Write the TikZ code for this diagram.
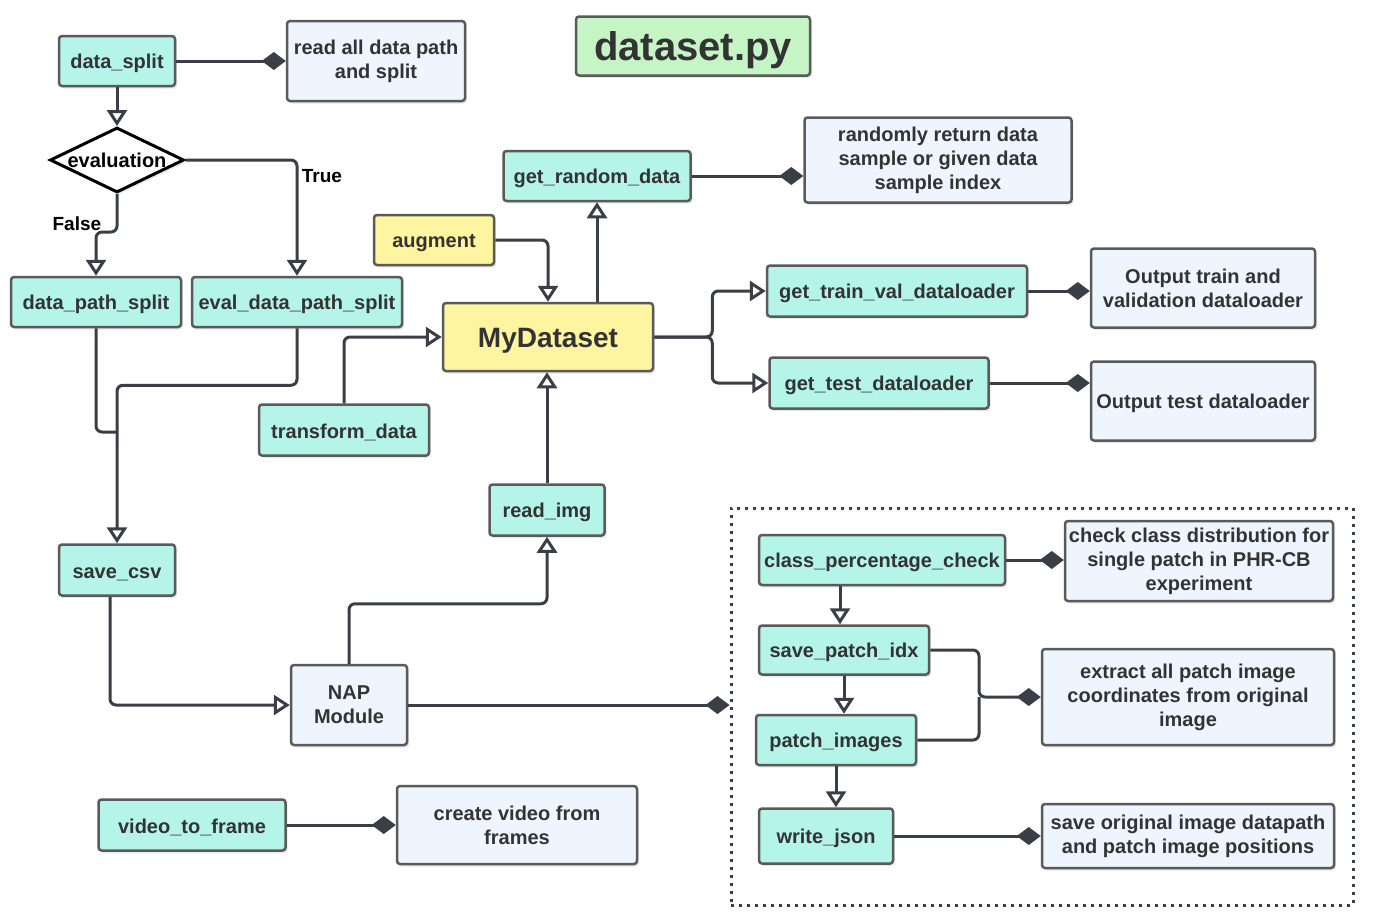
\documentclass[tikz,border=0pt]{standalone}
\usepackage{fontspec}
\setmainfont{Liberation Sans}
\usepackage{xcolor}
\usepackage{tikz}
\usetikzlibrary{shapes,positioning,arrows.meta,shadows}
\definecolor{fnfill}{RGB}{180,244,233}
\definecolor{notefill}{RGB}{238,245,255}
\definecolor{clsfill}{RGB}{255,245,160}
\definecolor{ttlfill}{RGB}{197,245,197}
\definecolor{edge}{RGB}{58,63,71}
\definecolor{bord}{RGB}{90,90,90}
\definecolor{txt}{RGB}{51,51,51}
\tikzset{box/.style={rectangle,draw=bord,line width=2.5pt,rounded corners=3pt,inner sep=2pt,text=txt,align=center,font=\fontsize{20}{24}\selectfont\bfseries,execute at begin node={\rule{0pt}{0.95em}},drop shadow={shadow xshift=2pt,shadow yshift=-2.5pt,opacity=0.18}}}
\tikzset{fn/.style={box,fill=fnfill}}
\tikzset{note/.style={box,fill=notefill}}
\tikzset{cls/.style={box,fill=clsfill}}
\tikzset{ttl/.style={box,fill=ttlfill,font=\fontsize{40}{44}\selectfont\bfseries}}
\tikzset{cond/.style={diamond,draw=black,line width=3pt,fill=white,inner sep=0pt,aspect=2,font=\fontsize{20}{24}\selectfont\bfseries,drop shadow={shadow xshift=2pt,shadow yshift=-2.5pt,opacity=0.18}}}
\tikzset{grpbox/.style={draw=edge,line width=3pt,dash pattern=on 3pt off 5pt}}
\tikzset{lbl/.style={font=\fontsize{19}{22}\selectfont\bfseries,text=black}}
\tikzset{ln/.style={draw=edge,line width=3pt,rounded corners=6pt}}
\tikzset{tri/.style={ln,-{Triangle[fill=white,length=16pt,width=20pt]}}}
\tikzset{dia/.style={ln,-{Diamond[fill=edge,length=24pt,width=18pt]}}}

\begin{document}
\begin{tikzpicture}[x=1pt,y=-1pt]
    \useasboundingbox (0,0) rectangle (1382,921);

    \node[grpbox,minimum width=622pt,minimum height=397pt] (grp) at (1042,706.5) {};

    \node[fn,minimum width=116pt,minimum height=50pt] (dsplit) at (117,61) {data\_split};
    \node[note,minimum width=178pt,minimum height=80pt] (rdp) at (376,61) {read all data path\\and split};
    \node[ttl,minimum width=234pt,minimum height=59pt] (ttl) at (693,46) {dataset.py};
    \node[cond,minimum width=134pt,minimum height=65pt] (eval) at (117,160) {evaluation};
    \node[fn,minimum width=170pt,minimum height=50pt] (dps) at (96,302) {data\_path\_split};
    \node[fn,minimum width=210pt,minimum height=50pt] (edps) at (297,302) {eval\_data\_path\_split};
    \node[cls,minimum width=120pt,minimum height=50pt] (aug) at (434,240) {augment};
    \node[fn,minimum width=187pt,minimum height=50pt] (grd) at (597,176) {get\_random\_data};
    \node[note,minimum width=267pt,minimum height=85pt] (rnd) at (938,160) {randomly return data\\sample or given data\\sample index};
    \node[cls,minimum width=210pt,minimum height=68pt,font=\fontsize{28}{32}\selectfont\bfseries] (mds) at (548,337) {MyDataset};
    \node[fn,minimum width=260pt,minimum height=51pt] (gtv) at (897,291) {get\_train\_val\_dataloader};
    \node[note,minimum width=224pt,minimum height=79pt] (otv) at (1203,288) {Output train and\\validation dataloader};
    \node[fn,minimum width=219pt,minimum height=51pt] (gtest) at (879,383) {get\_test\_dataloader};
    \node[note,minimum width=224pt,minimum height=79pt] (otest) at (1203,401) {Output test dataloader};
    \node[fn,minimum width=170pt,minimum height=51pt] (tdata) at (344,430) {transform\_data};
    \node[fn,minimum width=115pt,minimum height=51pt] (rimg) at (547,510) {read\_img};
    \node[fn,minimum width=116pt,minimum height=51pt] (csv) at (117,570) {save\_csv};
    \node[note,minimum width=116pt,minimum height=80pt] (nap) at (349,705) {NAP\\Module};
    \node[fn,minimum width=187pt,minimum height=51pt] (vtf) at (192,825) {video\_to\_frame};
    \node[note,minimum width=240pt,minimum height=78pt] (cvf) at (517,825) {create video from\\frames};
    \node[fn,minimum width=246pt,minimum height=50pt] (cpc) at (882,560) {class\_percentage\_check};
    \node[note,minimum width=268pt,minimum height=80pt] (ccd) at (1199,561) {check class distribution for\\single patch in PHR-CB\\experiment};
    \node[fn,minimum width=170pt,minimum height=49pt] (spi) at (844,650) {save\_patch\_idx};
    \node[fn,minimum width=160pt,minimum height=50pt] (pim) at (836,740) {patch\_images};
    \node[note,minimum width=292pt,minimum height=96pt] (ext) at (1188,697) {extract all patch image\\coordinates from original\\image};
    \node[fn,minimum width=134pt,minimum height=55pt] (wj) at (826,836) {write\_json};
    \node[note,minimum width=292pt,minimum height=64pt] (sod) at (1188,836) {save original image datapath\\and patch image positions};

    \coordinate (jn) at (117,432);
    \coordinate (jx) at (979,697);

    \draw [dia] (dsplit) to [] (rdp);
    \draw [tri] (dsplit) to [] (eval);
    \draw [tri] (eval.east) -| node[lbl,pos=0.57,anchor=west]{True} (edps.north);
    \draw [tri] (eval.south) -- node[lbl,pos=0.78,left=11pt]{False} ++(0,38) -| (dps.north);
    \draw [ln] (dps.south) |- (jn);
    \draw [tri] (edps.south) -- ++(0,57) -| (csv.north);
    \draw [tri] (tdata.north) |- (mds.west);
    \draw [tri] (aug.east) -| (mds.north);
    \draw [tri] (mds.north -| grd.south) to [] (grd.south);
    \draw [dia] (grd.east) to [] (grd.east -| rnd.west);
    \draw [tri] (mds.east) -- ++(58,0) |- (gtv.west);
    \draw [tri] (mds.east) -- ++(58,0) |- (gtest.west);
    \draw [dia] (gtv.east) to [] (gtv.east -| otv.west);
    \draw [dia] (gtest.east) to [] (gtest.east -| otest.west);
    \draw [tri] (rimg.north) to [] (rimg.north |- mds.south);
    \draw [tri] (nap.north) -- ++(0,-60) -| (rimg.south);
    \draw [tri] ([xshift=-7pt]csv.south) |- (nap.west);
    \draw [dia] (nap.east) to [] (nap.east -| grp.west);
    \draw [dia] (vtf) to [] (cvf);
    \draw [dia] (cpc.east) to [] (cpc.east -| ccd.west);
    \draw [tri] ([xshift=-4pt]spi.north |- cpc.south) to [] ([xshift=-4pt]spi.north);
    \draw [tri] (spi.south) to [] (spi.south |- pim.north);
    \draw [tri] (pim.south) to [] (pim.south |- wj.north);
    \draw [dia] (spi.east) -| (jx) -- (ext.west);
    \draw [ln] (pim.east) -| (jx);
    \draw [dia] (wj) to [] (sod);
\end{tikzpicture}
\end{document}
